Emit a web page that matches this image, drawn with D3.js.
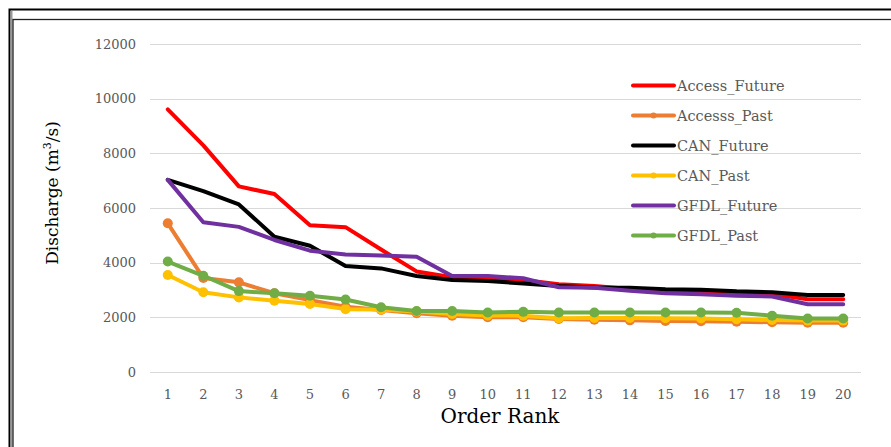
<!DOCTYPE html>
<html>
<head>
<meta charset="utf-8">
<script src="https://cdn.jsdelivr.net/npm/d3@7"></script>
<style>
  body { margin: 0; background: #fff; }
  svg { display: block; }
</style>
</head>
<body>
<div id="chart"></div>
<script>
// order ranks on the x axis
var ranks = d3.range(1, 21);
var yTicks = [0, 2000, 4000, 6000, 8000, 10000, 12000];

// discharge values per series (m3/s)
var accessFuture = [9610, 8290, 6790, 6510, 5370, 5300, 4480, 3680, 3470, 3410, 3370, 3210, 3150, 3040, 2940, 2910, 2880, 2850, 2660, 2660];
var accessPast   = [5440, 3440, 3280, 2880, 2630, 2390, 2270, 2150, 2060, 2000, 2000, 1940, 1910, 1890, 1870, 1860, 1840, 1820, 1800, 1800];
var canFuture    = [7030, 6620, 6130, 4950, 4620, 3880, 3790, 3510, 3370, 3330, 3240, 3150, 3090, 3080, 3030, 3010, 2950, 2920, 2820, 2820];
var canPast      = [3550, 2920, 2730, 2610, 2490, 2300, 2290, 2210, 2120, 2070, 2060, 1970, 1980, 1980, 1970, 1960, 1930, 1900, 1880, 1880];
var gfdlFuture   = [7030, 5480, 5310, 4830, 4440, 4300, 4260, 4220, 3510, 3510, 3430, 3100, 3080, 2970, 2880, 2840, 2790, 2760, 2480, 2480];
var gfdlPast     = [4040, 3520, 2960, 2880, 2790, 2650, 2370, 2230, 2230, 2180, 2200, 2180, 2180, 2180, 2180, 2180, 2170, 2060, 1960, 1960];

var seriesNames = ["Access_Future", "Accesss_Past", "CAN_Future", "CAN_Past", "GFDL_Future", "GFDL_Past"];
var seriesValues = [accessFuture, accessPast, canFuture, canPast, gfdlFuture, gfdlPast];
var seriesColors = ["#ff0000", "#ed7d31", "#000000", "#ffc000", "#7030a0", "#70ad47"];
var seriesMarkers = [false, true, false, true, false, true];

var svgWidth = 891, svgHeight = 447;
var serif = "'DejaVu Serif', 'Liberation Serif', serif";

var svg = d3.select("#chart")
  .append("svg")
  .attr("width", svgWidth)
  .attr("height", svgHeight);

// frame lines (outer thick one, inner thin one)
svg.append("rect")
  .attr("x", 9.5).attr("y", 9.5)
  .attr("width", 900).attr("height", 460)
  .attr("fill", "none").attr("stroke", "#000").attr("stroke-width", 2);
svg.append("rect")
  .attr("x", 10.5).attr("y", 11)
  .attr("width", 2).attr("height", 460)
  .attr("fill", "#9a9a9a");
svg.append("rect")
  .attr("x", 13).attr("y", 19.5)
  .attr("width", 900).attr("height", 460)
  .attr("fill", "none").attr("stroke", "#222").attr("stroke-width", 1.3);

// scales
var x = d3.scaleBand()
  .domain(ranks)
  .range([150, 861])
  .paddingInner(0).paddingOuter(0);
var xc = d => x(d) + x.bandwidth() / 2;

var y = d3.scaleLinear()
  .domain([0, 12000])
  .range([372, 44]);

// horizontal gridlines
svg.append("g")
  .selectAll("line")
  .data(yTicks)
  .enter()
  .append("line")
  .attr("x1", 150).attr("x2", 861)
  .attr("y1", d => Math.round(y(d)) + 0.5)
  .attr("y2", d => Math.round(y(d)) + 0.5)
  .attr("stroke", "#d9d9d9")
  .attr("stroke-width", 1);

// y axis labels
var leftAxis = d3.axisLeft(y)
  .tickValues(yTicks)
  .tickFormat(d3.format("d"))
  .tickSize(0).tickPadding(0);
var yAxisG = svg.append("g")
  .attr("transform", "translate(136,0)")
  .call(leftAxis);
yAxisG.select(".domain").remove();
yAxisG.selectAll("text")
  .attr("font-family", serif)
  .attr("font-size", "13px")
  .attr("fill", "#595959");

// x axis labels
var bottomAxis = d3.axisBottom(x).tickSize(0).tickPadding(0);
var xAxisG = svg.append("g")
  .attr("transform", "translate(0,390)")
  .call(bottomAxis);
xAxisG.select(".domain").remove();
xAxisG.selectAll("text")
  .attr("font-family", serif)
  .attr("font-size", "13px")
  .attr("fill", "#595959");

// series lines and markers
var line = d3.line()
  .x((d, i) => xc(ranks[i]))
  .y(d => y(d));

seriesValues.forEach(function(vals, s) {
  svg.append("path")
    .datum(vals)
    .attr("d", line)
    .attr("fill", "none")
    .attr("stroke", seriesColors[s])
    .attr("stroke-width", 4)
    .attr("stroke-linejoin", "round")
    .attr("stroke-linecap", "round");
  if (seriesMarkers[s]) {
    svg.append("g")
      .selectAll("circle")
      .data(vals)
      .enter()
      .append("circle")
      .attr("cx", (d, i) => xc(ranks[i]))
      .attr("cy", d => y(d))
      .attr("r", 5)
      .attr("fill", seriesColors[s]);
  }
});

// legend
var legend = svg.append("g");
seriesNames.forEach(function(name, s) {
  var ly = 85.5 + s * 30;
  legend.append("line")
    .attr("x1", 633).attr("x2", 674)
    .attr("y1", ly).attr("y2", ly)
    .attr("stroke", seriesColors[s])
    .attr("stroke-width", 4)
    .attr("stroke-linecap", "round");
  if (seriesMarkers[s]) {
    legend.append("circle")
      .attr("cx", 653.5).attr("cy", ly).attr("r", 3)
      .attr("fill", seriesColors[s]);
  }
  legend.append("text")
    .attr("x", 677).attr("y", ly)
    .attr("dy", "0.35em")
    .attr("font-family", serif)
    .attr("font-size", "14.5px")
    .attr("fill", "#595959")
    .text(name);
});

// axis titles
svg.append("text")
  .attr("x", 500).attr("y", 423)
  .attr("text-anchor", "middle")
  .attr("font-family", serif)
  .attr("font-size", "20px")
  .attr("fill", "#000")
  .text("Order Rank");

var yTitle = svg.append("text")
  .attr("transform", "translate(58,193) rotate(-90)")
  .attr("text-anchor", "middle")
  .attr("font-family", serif)
  .attr("font-size", "17px")
  .attr("fill", "#000");
yTitle.append("tspan").text("Discharge (m");
yTitle.append("tspan").attr("font-size", "11px").attr("dy", "-7").text("3");
yTitle.append("tspan").attr("dy", "7").text("/s)");
</script>
</body>
</html>
